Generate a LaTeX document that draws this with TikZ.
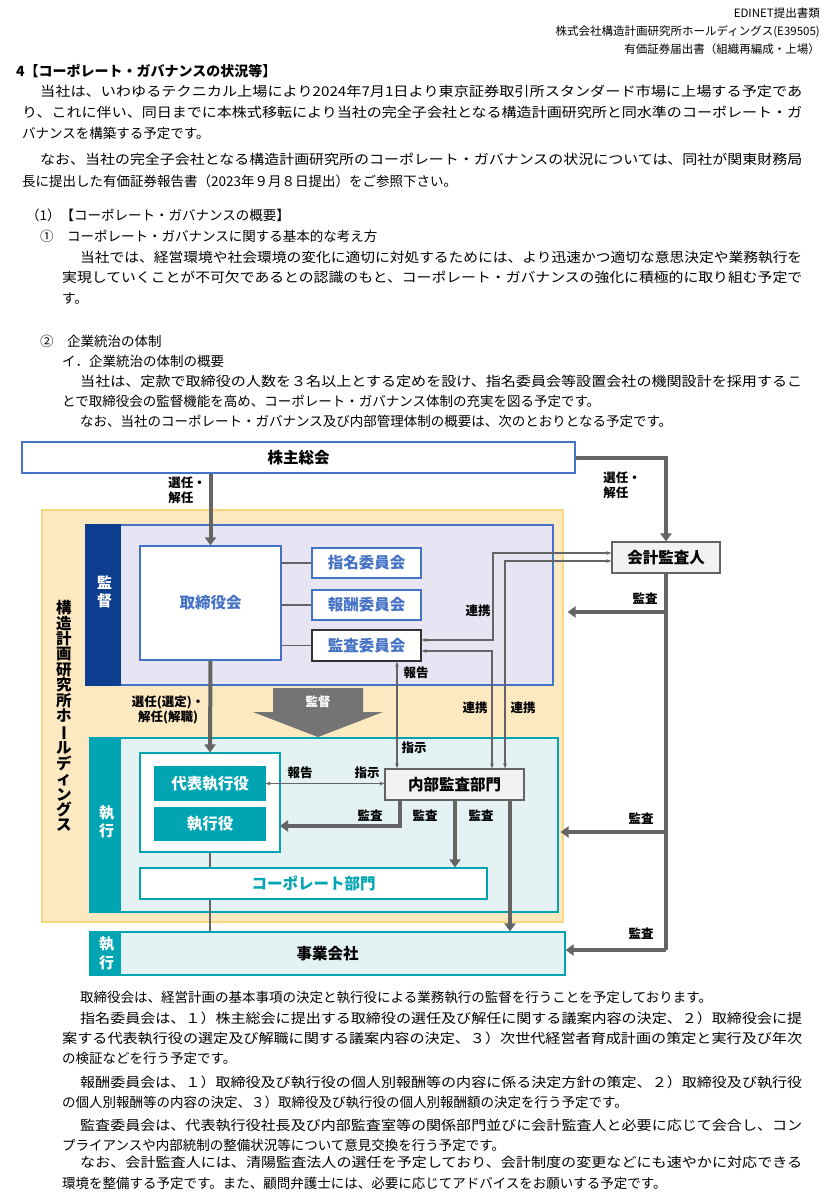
\documentclass[tikz,border=0pt]{standalone}
\usepackage{fontspec}
\usepackage{graphicx}
\usetikzlibrary{arrows.meta}
\setmainfont{Noto Sans CJK JP}
\definecolor{framecolor}{RGB}{68,114,196}
\definecolor{boardcolor}{RGB}{13,61,142}
\definecolor{superfill}{RGB}{231,229,243}
\definecolor{execcolor}{RGB}{0,164,178}
\definecolor{execfill}{RGB}{228,242,244}
\definecolor{holdfill}{RGB}{253,233,193}
\definecolor{holdframe}{RGB}{250,214,130}
\definecolor{arrowgray}{RGB}{100,100,100}
\definecolor{boxgray}{RGB}{242,242,242}
\newcommand{\tline}[5]{\node[textline] (#1) at (#2,#3) {\resizebox{#4pt}{\height}{#5}};}
\tikzstyle{textline} = [anchor=base west, inner sep=0, font=\fontsize{13.5}{13.5}\selectfont]
\tikzstyle{headline} = [anchor=base east, inner sep=0, font=\fontsize{11.5}{11.5}\selectfont]
\tikzstyle{region} = [draw, line width=1.2pt, inner sep=0]
\tikzstyle{bluebox} = [region, draw=framecolor, fill=white, text=framecolor, font=\fontsize{15.5}{15.5}\selectfont\bfseries]
\tikzstyle{tealbox} = [region, draw=execcolor, fill=execcolor, text=white, font=\fontsize{15.5}{15.5}\selectfont\bfseries]
\tikzstyle{graybox} = [region, draw=arrowgray, fill=boxgray, font=\fontsize{15.5}{15.5}\selectfont\bfseries]
\tikzstyle{bar} = [inner sep=0, text=white, align=center, text width=1.2em, font=\fontsize{15}{18}\selectfont\bfseries]
\tikzstyle{label} = [inner sep=0, align=left, font=\fontsize{12.5}{15}\selectfont\bfseries]
\tikzstyle{bigarrow} = [draw=arrowgray, line width=4pt, -{Triangle[length=8pt,width=11pt]}]
\tikzstyle{bigline} = [draw=arrowgray, line width=4pt]
\tikzstyle{thinarrow} = [draw=arrowgray, line width=1.3pt, {Stealth[length=5pt]}-{Stealth[length=5pt]}]
\tikzstyle{thinline} = [draw=arrowgray, line width=1.6pt]
\begin{document}
\begin{tikzpicture}[x=1pt, y=-1pt]
	\useasboundingbox (0,0) rectangle (833,1200);
	
	% header and upper text
	\node[headline] (h1) at (820,17) {EDINET提出書類};
	\node[headline] (h2) at (820,35) {株式会社構造計画研究所ホールディングス(E39505)};
	\node[headline] (h3) at (820,53) {有価証券届出書（組織再編成・上場）};
	\node[textline, font=\fontsize{14}{14}\selectfont\bfseries] (sec) at (16,76) {4【コーポレート・ガバナンスの状況等】};
	\tline{p1}{40}{96}{762}{当社は、いわゆるテクニカル上場により2024年7月1日より東京証券取引所スタンダード市場に上場する予定であ}
	\tline{p2}{22}{117}{780}{り、これに伴い、同日までに本株式移転により当社の完全子会社となる構造計画研究所と同水準のコーポレート・ガ}
	\node[textline] (p3) at (22,138) {バナンスを構築する予定です。};
	\tline{p4}{40}{164}{762}{なお、当社の完全子会社となる構造計画研究所のコーポレート・ガバナンスの状況については、同社が関東財務局}
	\node[textline] (p5) at (22,186) {長に提出した有価証券報告書（2023年９月８日提出）をご参照下さい。};
	\node[textline] (s1) at (26,220) {（1）【コーポレート・ガバナンスの概要】};
	\node[textline] (s2) at (40,241) {①　コーポレート・ガバナンスに関する基本的な考え方};
	\tline{q1}{80}{262}{722}{当社では、経営環境や社会環境の変化に適切に対処するためには、より迅速かつ適切な意思決定や業務執行を}
	\tline{q2}{62}{282}{740}{実現していくことが不可欠であるとの認識のもと、コーポレート・ガバナンスの強化に積極的に取り組む予定で}
	\node[textline] (q3) at (62,303) {す。};
	\node[textline] (s3) at (40,346) {②　企業統治の体制};
	\node[textline] (s4) at (62,366) {イ．企業統治の体制の概要};
	\tline{r1}{80}{386}{722}{当社は、定款で取締役の人数を３名以上とする定めを設け、指名委員会等設置会社の機関設計を採用するこ}
	\node[textline] (r2) at (62,406) {とで取締役会の監督機能を高め、コーポレート・ガバナンス体制の充実を図る予定です。};
	\node[textline] (r3) at (80,426) {なお、当社のコーポレート・ガバナンス及び内部管理体制の概要は、次のとおりとなる予定です。};
	
	% regions
	\node[region, draw=holdframe, fill=holdfill, minimum width=521pt, minimum height=412pt] (hd) at (302.5,716) {};
	\node[region, draw=framecolor, fill=superfill, minimum width=467pt, minimum height=160pt] (sup) at (319.5,605) {};
	\node[region, draw=boardcolor, fill=boardcolor, minimum width=34pt, minimum height=160pt] (supbar) at (103,605) {};
	\node[bar] (supt) at (103,592) {監\\督};
	\node[region, draw=execcolor, fill=execfill, minimum width=468pt, minimum height=174pt] (ex) at (324,825) {};
	\node[region, draw=execcolor, fill=execcolor, minimum width=30pt, minimum height=174pt] (exbar) at (105,825) {};
	\node[bar] (ext) at (105,822) {執\\行};
	\node[bar, text=black, font=\fontsize{15.5}{15.4}\selectfont\bfseries] (hdt) at (62,716) {構\\造\\計\\画\\研\\究\\所\\ホ\\\rotatebox[origin=c]{-90}{ー}\\ル\\デ\\ィ\\ン\\グ\\ス};
	
	% boxes
	\node[bluebox, text=black, minimum width=553pt, minimum height=31pt] (sh) at (298.5,457.5) {株主総会};
	\node[bluebox, minimum width=141pt, minimum height=114pt] (tori) at (210.5,603) {取締役会};
	\node[bluebox, minimum width=109pt, minimum height=30pt] (shimei) at (366.5,563) {指名委員会};
	\node[bluebox, minimum width=109pt, minimum height=30pt] (houshu) at (366.5,605) {報酬委員会};
	\node[bluebox, draw=black!80, minimum width=109pt, minimum height=31pt] (kansa) at (366.5,645.5) {監査委員会};
	\node[graybox, minimum width=108pt, minimum height=31pt] (kaikei) at (666,557.5) {会計監査人};
	\node[bluebox, draw=execcolor, minimum width=140pt, minimum height=99pt] (wbox) at (210,802.5) {};
	\node[tealbox, minimum width=110pt, minimum height=33pt] (daihyo) at (210,783.5) {代表執行役};
	\node[tealbox, minimum width=110pt, minimum height=32pt] (shikko) at (210,824) {執行役};
	\node[graybox, minimum width=139pt, minimum height=31pt] (naibu) at (454.5,784.5) {内部監査部門};
	\node[bluebox, draw=execcolor, text=execcolor, minimum width=347pt, minimum height=31pt] (corp) at (313.5,883.5) {コーポレート部門};
	\node[region, draw=execcolor, fill=execfill, minimum width=475pt, minimum height=43pt, font=\fontsize{15.5}{15.5}\selectfont\bfseries] (jigyo) at (327.5,953.5) {事業会社};
	\node[region, draw=execcolor, fill=execcolor, minimum width=30pt, minimum height=43pt] (jgbar) at (105,953.5) {};
	\node[bar, font=\fontsize{15}{19}\selectfont\bfseries] (jgt) at (105,953.5) {執\\行};
	
	% big supervision arrow
	\fill[arrowgray!90] (273,688) -- (363,688) -- (363,712) -- (383,712) -- (318,737) -- (253,712) -- (273,712) -- cycle;
	\node[label, text=white] (kt) at (318,702) {監督};
	
	% connectors
	\draw[bigarrow] (tori.north |- sh.south) -- (tori.north);
	\draw[bigarrow] (sh.east) -| (kaikei.north);
	\draw[bigarrow] (tori.south) -- (wbox.north);
	\draw[bigline] (kaikei.south) -- (666,950);
	\coordinate (m1) at (666,612);
	\coordinate (m2) at (666,832);
	\coordinate (m3) at (666,950);
	\draw[bigarrow] (m1) -- ([xshift=4pt]m1 -| hd.east);
	\draw[bigarrow] (m2) -- ([xshift=2pt]m2 -| ex.east);
	\draw[bigarrow] (m3) -- (m3 -| jigyo.east);
	\foreach \c in {shimei, houshu, kansa}
		\draw[thinline] (tori.east |- \c.west) -- (\c.west);
	\coordinate (a1) at (493,640);
	\coordinate (b1) at (492,651);
	\coordinate (c1) at (505,561);
	\coordinate (d1) at (397,0);
	\coordinate (n1) at (400,0);
	\coordinate (n2) at (280,826);
	\coordinate (n3) at (455,0);
	\coordinate (n4) at (510,0);
	\draw[thinarrow] ([yshift=4.5pt]kaikei.west) -| (a1) -- (a1 -| kansa.east);
	\draw[thinarrow] ([yshift=-5.5pt]kansa.east) -- (b1) -- (b1 |- naibu.north);
	\draw[thinarrow] ([yshift=-3.5pt]kaikei.west) -| (c1 |- naibu.north);
	\draw[thinarrow] (d1 |- kansa.south) -- (d1 |- naibu.north);
	\draw[thinarrow] (daihyo.east) -- (daihyo.east -| naibu.west);
	\draw[bigarrow] (n1 |- naibu.south) |- (n2);
	\draw[bigarrow] (n3 |- naibu.south) -- (n3 |- corp.north);
	\draw[bigarrow] (n4 |- naibu.south) -- (n4 |- jigyo.north);
	\draw[thinline] (wbox.south) -- (wbox.south |- corp.north);
	\draw[thinline] (wbox.south |- corp.south) -- (wbox.south |- jigyo.north);
	
	% labels
	\node[label] (l1) at (187,490) {選任・\\解任};
	\node[label] (l2) at (622,485) {選任・\\解任};
	\node[label] (l3) at (645,599) {監査};
	\node[label] (l4) at (641,819) {監査};
	\node[label] (l5) at (641,934) {監査};
	\node[label] (l6) at (478,611) {連携};
	\node[label] (l7) at (475,708) {連携};
	\node[label] (l8) at (523,708) {連携};
	\node[label] (l9) at (416,673) {報告};
	\node[label] (l10) at (414,748) {指示};
	\node[label] (l11) at (300,773) {報告};
	\node[label] (l12) at (367,773) {指示};
	\node[label] (l13) at (370,816) {監査};
	\node[label] (l14) at (425,816) {監査};
	\node[label] (l15) at (481,816) {監査};
	\node[label, align=center] (l16) at (168,710) {選任(選定)・\\解任(解職)};
	
	% lower text
	\node[textline] (u1) at (80,1002) {取締役会は、経営計画の基本事項の決定と執行役による業務執行の監督を行うことを予定しております。};
	\tline{u2}{80}{1023}{722}{指名委員会は、１）株主総会に提出する取締役の選任及び解任に関する議案内容の決定、２）取締役会に提}
	\tline{u3}{62}{1043}{740}{案する代表執行役の選定及び解職に関する議案内容の決定、３）次世代経営者育成計画の策定と実行及び年次}
	\node[textline] (u4) at (62,1063) {の検証などを行う予定です。};
	\tline{u5}{80}{1087}{722}{報酬委員会は、１）取締役及び執行役の個人別報酬等の内容に係る決定方針の策定、２）取締役及び執行役}
	\node[textline] (u6) at (62,1107) {の個人別報酬等の内容の決定、３）取締役及び執行役の個人別報酬額の決定を行う予定です。};
	\tline{u7}{80}{1130}{722}{監査委員会は、代表執行役社長及び内部監査室等の関係部門並びに会計監査人と必要に応じて会合し、コン}
	\node[textline] (u8) at (62,1150) {プライアンスや内部統制の整備状況等について意見交換を行う予定です。};
	\tline{u9}{80}{1167}{722}{なお、会計監査人には、清陽監査法人の選任を予定しており、会計制度の変更などにも速やかに対応できる}
	\node[textline] (u10) at (62,1188) {環境を整備する予定です。また、顧問弁護士には、必要に応じてアドバイスをお願いする予定です。};
\end{tikzpicture}
\end{document}
